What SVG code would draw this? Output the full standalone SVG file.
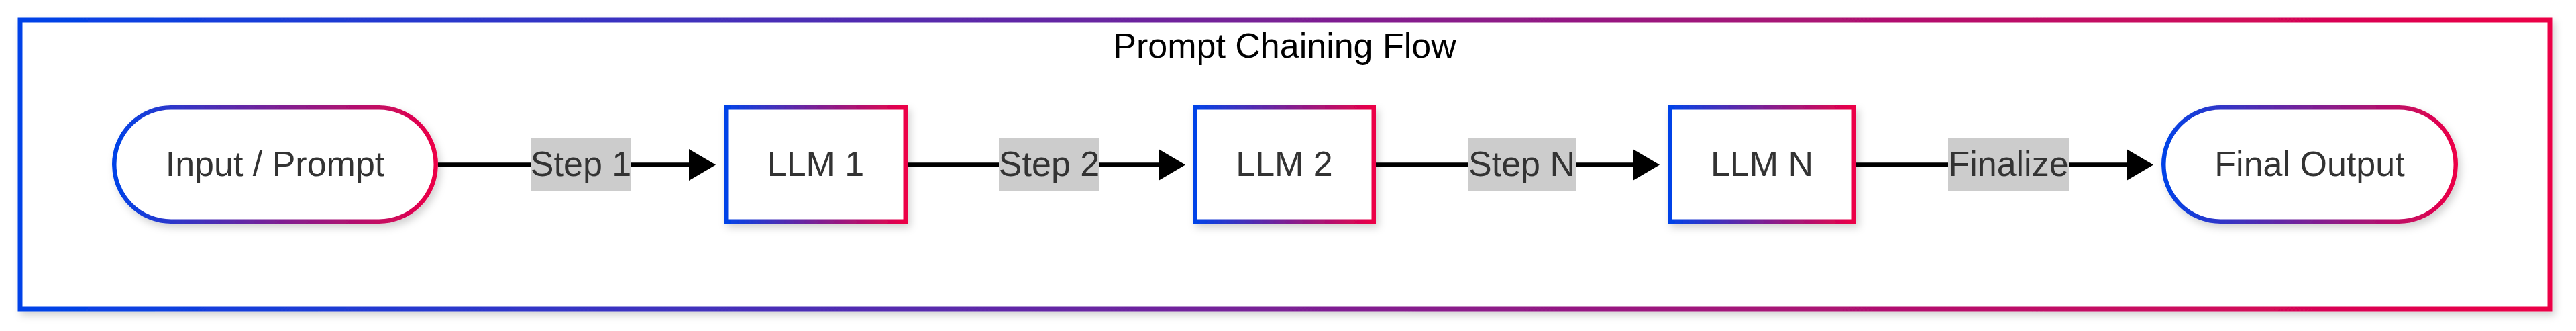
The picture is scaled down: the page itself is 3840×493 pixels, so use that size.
<svg xmlns="http://www.w3.org/2000/svg" width="3840" height="493" viewBox="0 0 3840 493">
  <style>
    .node { fill: #ffffff; stroke: url(#grad); stroke-width: 6.5; filter: url(#shadow); }
    .cluster { fill: #ffffff; stroke: url(#grad); stroke-width: 7; filter: url(#shadow); }
    .ntext { font-family: "Liberation Sans", Arial, sans-serif; font-size: 52px; fill: #333333; text-anchor: middle; }
    .title { font-family: "Liberation Sans", Arial, sans-serif; font-size: 52px; fill: #000000; text-anchor: middle; }
    .edge { stroke: #000000; stroke-width: 6.5; fill: none; marker-end: url(#arrow); }
    .lblbg { fill: #cccccc; }
  </style>
  <defs>
    <linearGradient id="grad" x1="0" y1="0" x2="1" y2="0">
      <stop offset="0" stop-color="#0043E8"/>
      <stop offset="0.5" stop-color="#7A2095"/>
      <stop offset="1" stop-color="#EC0046"/>
    </linearGradient>
    <filter id="shadow" x="-10%" y="-20%" width="120%" height="150%">
      <feDropShadow dx="4" dy="6" stdDeviation="6" flood-color="#000000" flood-opacity="0.18"/>
    </filter>
    <marker id="arrow" viewBox="0 0 40 47" refX="10" refY="23.5" markerWidth="40" markerHeight="47" markerUnits="userSpaceOnUse" orient="auto">
      <path d="M0,0 L40,23.5 L0,47 z" fill="#000000"/>
    </marker>
  </defs>
  <rect width="3840" height="493" fill="#ffffff"/>

  <g id="cluster">
    <rect class="cluster" x="30" y="30" width="3771" height="430"/>
    <text class="title" x="1915" y="86">Prompt Chaining Flow</text>
  </g>

  <g id="connectors">
    <line class="edge" x1="653" y1="245.5" x2="1037" y2="245.5"/>
    <line class="edge" x1="1353" y1="245.5" x2="1737" y2="245.5"/>
    <line class="edge" x1="2051" y1="245.5" x2="2444" y2="245.5"/>
    <line class="edge" x1="2767" y1="245.5" x2="3180" y2="245.5"/>
    <rect class="lblbg" x="791" y="206" width="150" height="78"/>
    <text class="ntext" x="866" y="262">Step 1</text>
    <rect class="lblbg" x="1489" y="206" width="150" height="78"/>
    <text class="ntext" x="1564" y="262">Step 2</text>
    <rect class="lblbg" x="2188" y="206" width="161" height="78"/>
    <text class="ntext" x="2268.5" y="262">Step N</text>
    <rect class="lblbg" x="2904" y="206" width="180" height="78"/>
    <text class="ntext" x="2994" y="262">Finalize</text>
  </g>

  <g id="input">
    <rect class="node" x="170.25" y="160.25" width="479.5" height="169.5" rx="84.75" ry="84.75"/>
    <text class="ntext" x="410" y="262">Input / Prompt</text>
  </g>
  <g id="llm1">
    <rect class="node" x="1082.25" y="160.25" width="267.5" height="169.5"/>
    <text class="ntext" x="1216" y="262">LLM 1</text>
  </g>
  <g id="llm2">
    <rect class="node" x="1781.25" y="160.25" width="266.5" height="169.5"/>
    <text class="ntext" x="1914.5" y="262">LLM 2</text>
  </g>
  <g id="llmn">
    <rect class="node" x="2489.25" y="160.25" width="274.5" height="169.5"/>
    <text class="ntext" x="2626.5" y="262">LLM N</text>
  </g>
  <g id="output">
    <rect class="node" x="3225.25" y="160.25" width="435.5" height="169.5" rx="84.75" ry="84.75"/>
    <text class="ntext" x="3443" y="262">Final Output</text>
  </g>
</svg>
